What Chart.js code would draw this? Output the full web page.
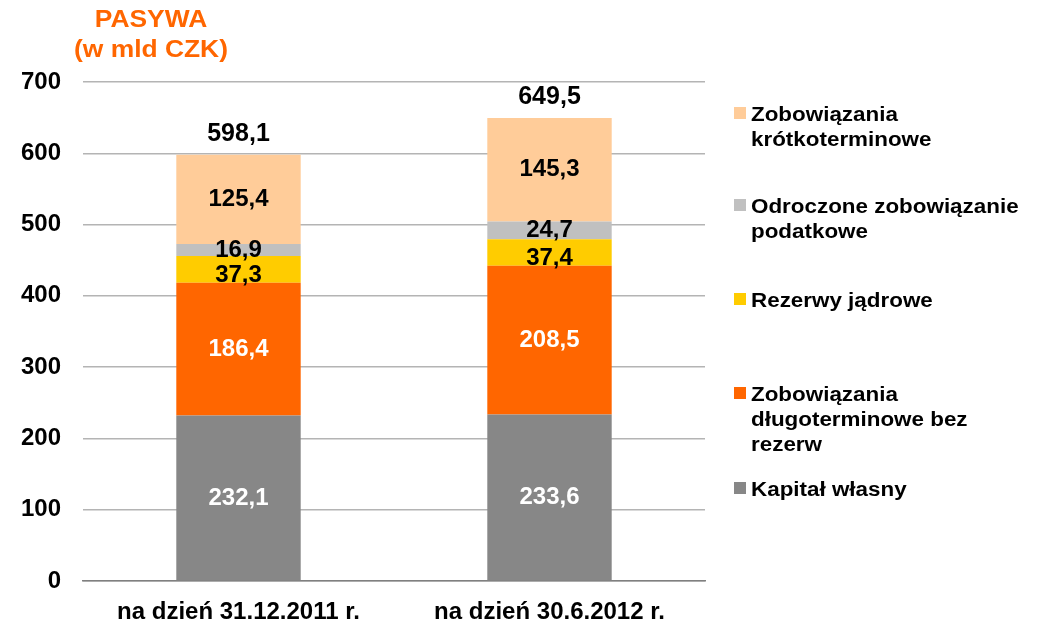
<!DOCTYPE html>
<html>
<head>
<meta charset="utf-8">
<script src="https://cdn.jsdelivr.net/npm/chart.js@4/dist/chart.umd.min.js"></script>
<style>
  body { margin: 0; background: #fff; font-family: "Liberation Sans", Arial, sans-serif; }
  #wrap { position: relative; width: 1037px; height: 621px; overflow: hidden; }
  #title { position: absolute; left: 51px; top: 4px; width: 200px; text-align: center;
    color: #ff6600; font-weight: bold; font-size: 24px; line-height: 30px;
    transform: scaleX(1.1); transform-origin: 50% 0; }
  #legend { position: absolute; left: 734px; top: 0; }
  .item { position: absolute; left: 0; width: 300px; }
  .txt { position: absolute; left: 17px; top: 0; font-weight: bold; font-size: 20px;
    line-height: 25px; color: #000; white-space: nowrap;
    transform: scaleX(1.12); transform-origin: 0 0; }
  .box { position: absolute; left: 0; top: 5px; width: 12px; height: 12px; }
</style>
</head>
<body>
<div id="wrap">
  <canvas id="chart" width="1037" height="621"></canvas>
  <div id="title">PASYWA<br>(w mld CZK)</div>
  <div id="legend"></div>
</div>
<script>
const categories = ["na dzień 31.12.2011 r.", "na dzień 30.6.2012 r."];

const kapital = [232.1, 233.6];
const dlugoterminowe = [186.4, 208.5];
const rezerwy = [37.3, 37.4];
const odroczone = [16.9, 24.7];
const krotkoterminowe = [125.4, 145.3];

const yTicks = [0, 100, 200, 300, 400, 500, 600, 700];

const series = [
  { label: "Kapitał własny", data: kapital, color: "#878787", text: "#fff", shift: 0 },
  { label: "Zobowiązania\ndługoterminowe bez\nrezerw", data: dlugoterminowe, color: "#ff6600", text: "#fff", shift: 0 },
  { label: "Rezerwy jądrowe", data: rezerwy, color: "#ffcc00", text: "#000", shift: 6 },
  { label: "Odroczone zobowiązanie\npodatkowe", data: odroczone, color: "#c0c0c0", text: "#000", shift: 0 },
  { label: "Zobowiązania\nkrótkoterminowe", data: krotkoterminowe, color: "#ffcc99", text: "#000", shift: 0 },
];

// legend top of each entry, listed top to bottom
const legendTops = [102, 194, 288, 382, 477];

function fmt(v) {
  return v.toFixed(1).replace(".", ",");
}

const FONT = "'Liberation Sans', Arial, sans-serif";

const labelPlugin = {
  id: "labels",
  afterDatasetsDraw(chart) {
    const ctx = chart.ctx;
    ctx.save();
    ctx.font = "bold 24px " + FONT;
    ctx.textAlign = "center";
    ctx.textBaseline = "middle";
    chart.data.datasets.forEach((ds, i) => {
      chart.getDatasetMeta(i).data.forEach((bar, j) => {
        const mid = (bar.y + bar.base) / 2 + series[i].shift;
        ctx.fillStyle = series[i].text;
        ctx.fillText(fmt(ds.data[j]), bar.x, mid);
      });
    });
    // totals above the bars
    const last = chart.getDatasetMeta(chart.data.datasets.length - 1);
    ctx.fillStyle = "#000";
    ctx.font = "bold 25px " + FONT;
    last.data.forEach((bar, j) => {
      let sum = 0;
      series.forEach((s) => (sum += s.data[j]));
      ctx.fillText(fmt(sum), bar.x, bar.y - 21);
    });
    ctx.restore();
  },
};

const chart = new Chart(document.getElementById("chart"), {
  type: "bar",
  data: {
    labels: categories,
    datasets: series.map((s) => ({
      label: s.label,
      data: s.data,
      backgroundColor: s.color,
      borderWidth: 0,
      categoryPercentage: 1,
      barPercentage: 0.4,
    })),
  },
  options: {
    responsive: false,
    animation: false,
    layout: { padding: { top: 82, right: 332, left: 0, bottom: 0 } },
    plugins: { legend: { display: false }, tooltip: { enabled: false } },
    scales: {
      x: {
        stacked: true,
        grid: { display: false, drawTicks: false },
        border: { color: "#808080", width: 1.5 },
        ticks: { color: "#000", font: { family: FONT, size: 24, weight: "bold" }, padding: 17 },
        afterFit(scale) { scale.height = 40; },
      },
      y: {
        stacked: true,
        min: 0,
        max: 700,
        afterBuildTicks(scale) { scale.ticks = yTicks.map((v) => ({ value: v })); },
        grid: { color: "#b4b4b4", lineWidth: 1.5, drawTicks: false },
        border: { display: false },
        ticks: { color: "#000", font: { family: FONT, size: 24, weight: "bold" }, padding: 22 },
        afterFit(scale) { scale.width = 83; },
      },
    },
  },
  plugins: [labelPlugin],
});

const legend = document.getElementById("legend");
series.slice().reverse().forEach((s, k) => {
  const item = document.createElement("div");
  item.className = "item";
  item.style.top = legendTops[k] + "px";
  const box = document.createElement("span");
  box.className = "box";
  box.style.background = s.color;
  item.appendChild(box);
  const txt = document.createElement("span");
  txt.className = "txt";
  s.label.split("\n").forEach((line, n) => {
    if (n) txt.appendChild(document.createElement("br"));
    txt.appendChild(document.createTextNode(line));
  });
  item.appendChild(txt);
  legend.appendChild(item);
});
</script>
</body>
</html>
